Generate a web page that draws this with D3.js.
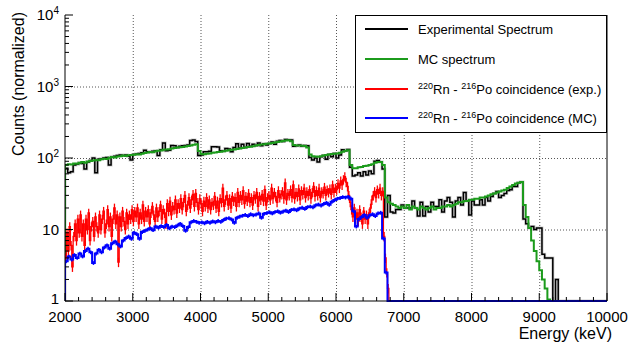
<!DOCTYPE html>
<html>
<head>
<meta charset="utf-8">
<script src="https://cdn.jsdelivr.net/npm/d3@7"></script>
<style>
  body { margin: 0; background: #fff; }
  svg { font-family: "Liberation Sans", Arial, sans-serif; }
</style>
</head>
<body>
<div id="chart"></div>
<script>
// ---------- data ----------
const eMin = 2000, eMax = 10000;
const specBin = 40;   // keV, experimental + MC spectrum
const expBin = 20;    // keV, Rn-Po coincidence (exp.)
const mcBin = 40;     // keV, Rn-Po coincidence (MC)

const expSpectrum = [
  72,62,64,80,82,86,84,70,88,92,
  100,62,96,98,100,102,80,104,106,108,
  110,108,110,106,94,112,114,116,118,128,
  122,120,124,126,108,130,162,126,128,150,
  148,140,146,148,150,152,176,178,170,108,
  110,122,122,124,144,144,142,126,124,136,
  134,122,140,158,138,156,140,160,146,156,
  150,162,148,158,152,160,168,156,172,176,
  170,182,180,178,146,148,152,146,150,148,
  102,94,100,88,104,108,96,112,104,116,
  100,110,130,126,132,74,56,58,62,56,
  64,58,66,60,90,92,88,70,15,30,
  17.5,17,19,19,22,20,20,20,25,20,
  15.5,24,15.5,21,17.5,24,21,21,26,17.5,
  25,28,24,15,25,28,22,33,25,16,
  25,22,22,26,22,28,25,29,32,34,
  28,30,32,35,36,40,40,45,46,14,
  12,10.5,11,10,10.5,10.5,4.5,4,4,4,
  0,2,0,0,0,0,0,0,0,0,
  0,0,0,0,0,0,0,0,0,0
];

const mcSpectrum = [
  80,82,81,84,83,86,88,86,89,91,
  92,94,93,96,98,97,101,103,102,105,
  106,108,107,109,110,111,113,112,115,117,
  119,121,120,124,126,127,130,132,133,136,
  138,140,141,143,145,147,150,153,156,125,
  114,113,115,116,118,119,121,122,124,126,
  128,130,132,134,136,138,140,142,144,146,
  150,152,154,156,158,160,162,165,168,170,
  173,176,177,172,152,150,149,148,147,140,
  112,106,105,104,106,108,110,112,114,115,
  116,118,122,126,128,80,72,72,74,75,
  77,78,80,82,86,88,88,80,28,24,
  23,22,21,20,21,20,22,19,21,20,
  19,21,20,19,20,21,19,20,20,21,
  21,22,21,22,23,24,24,25,25,26,
  26,27,27,28,28,29,30,31,32,33,
  34,35,36,38,40,42,44,45,46,22,
  15,10.5,7,5,3.6,2.7,2.0,1.5,1.05,0,
  0,0,0,0,0,0,0,0,0,0,
  0,0,0,0,0,0,0,0,0,0
];

const rnPoExp = [
  4,9,5,11,6, 3,8,12,7,14, 9,16,8,12,6, 14,10,17,7,11,
  13,8,15,11,9, 16,10,14,18,9, 12,19,11,15,8, 14,20,12,16,3.5,
  15,11,18,13,10, 17,12,16,14,19, 13,18,15,20,12, 17,14,22,13,18,
  15,19,12,17,21, 16,13,20,15,18, 22,14,19,17,12, 23,18,25,16,21,
  19,26,17,23,20, 27,19,24,30,18, 22,28,20,26,31, 21,32,24,19,27,
  23,18,25,21,28, 20,26,19,24,22, 29,20,25,18,27, 24,38,21,26,30,
  22,27,20,29,25, 28,21,33,24,30, 26,35,23,29,25, 32,24,28,22,30,
  27,33,21,29,26, 31,25,36,22,28, 30,26,38,27,33, 29,24,35,28,31,
  34,27,45,26,32, 30,36,28,42,27, 33,29,37,26,35, 31,38,28,34,30,
  36,27,33,40,29, 35,30,38,28,34, 32,39,30,36,33, 37,31,42,33,38,
  36,44,38,48,42, 50,55,46,40,30, 24,19,15,20,14, 17,13,19,15,12,
  18,14,16,12,17, 20,26,30,34,28, 36,32,38,30,34, 8,4,2.5,1.5,0
];

const rnPoMC = [
  3.6,4.2,3.8,4.4,4.0, 4.6,4.2,5.0,5.4,4.8,
  3.4,4.6,5.2,4.8,5.6, 6.0,5.4,6.4,6.8,6.2,
  5.8,7.0,7.6,8.0,7.4, 9.0,8.6,7.4,9.2,9.6,
  10.0,10.4,9.8,11.0,10.6, 11.2,10.8,11.6,10.4,11.0,
  10.8,11.4,12.0,11.2,9.6, 10.8,12.6,13.2,12.8,12.4,
  12.6,12.2,12.8,12.4,13.0, 12.6,13.2,12.8,13.6,14.2,
  14.4,13.8,12.4,14.6,15.2, 15.6,16.0,15.4,16.4,15.8,
  16.2,16.8,14.6,16.6,17.0, 17.4,16.8,17.6,18.0,17.2,
  17.8,18.4,17.6,18.8,19.2, 18.6,19.6,20.2,19.4,20.6,
  21.0,20.4,21.8,22.4,21.6, 22.8,23.6,22.2,24.4,25.8,
  27.0,27.6,28.4,28.0,28.6, 27.0,18.0,11.0,14.0,15.0,
  16.0,14.6,15.8,16.4,15.4, 16.8,17.2,7.5,2.5,0
];

const xTicks = [2000,3000,4000,5000,6000,7000,8000,9000,10000];
const yDecades = [1,10,100,1000,10000];
const legendLabels = [
  ['Experimental Spectrum'],
  ['MC spectrum'],
  ['220','Rn - ','216','Po coincidence (exp.)'],
  ['220','Rn - ','216','Po coincidence (MC)']
];

// ---------- layout ----------
const W = 629, H = 348;
const margin = { left: 65, right: 22, top: 15, bottom: 47 };
const colors = { exp: '#000000', mc: '#1c9b1c', rnExp: '#ff0000', rnMC: '#0000ff' };

const svg = d3.select('#chart').append('svg')
  .attr('width', W).attr('height', H);
svg.append('rect').attr('width', W).attr('height', H).attr('fill', '#fff');

const x = d3.scaleLinear().domain([eMin, eMax]).range([margin.left, W - margin.right]);
const y = d3.scaleLog().domain([1, 10000]).range([H - margin.bottom, margin.top]).clamp(true);
const yv = v => y(Math.max(v, 1));

const x0 = x.range()[0], x1 = x.range()[1];
const yTop = y.range()[1], yBot = y.range()[0];

svg.append('clipPath').attr('id', 'plotClip')
  .append('rect').attr('x', x0).attr('y', yTop - 1).attr('width', x1 - x0 + 1).attr('height', yBot - yTop + 2);

/* ---------- grid ---------- */
const grid = svg.append('g').attr('stroke', '#555').attr('stroke-dasharray', '1,2').attr('stroke-width', 1);
xTicks.slice(1, -1).forEach(t => {
  grid.append('line').attr('x1', x(t) + 0.5).attr('x2', x(t) + 0.5).attr('y1', yTop).attr('y2', yBot);
});
[10, 100, 1000].forEach(t => {
  grid.append('line').attr('x1', x0).attr('x2', x1).attr('y1', y(t) + 0.5).attr('y2', y(t) + 0.5);
});

/* ---------- histograms ---------- */
function stepPath(vals, bw) {
  let p = 'M' + x(eMin) + ',' + yBot;
  vals.forEach((v, i) => {
    const e = eMin + i * bw;
    p += 'L' + x(e) + ',' + yv(v) + 'L' + x(e + bw) + ',' + yv(v);
  });
  const last = eMin + vals.length * bw;
  if (last < eMax) p += 'L' + x(last) + ',' + yBot + 'L' + x(eMax) + ',' + yBot;
  return p;
}

const plot = svg.append('g').attr('clip-path', 'url(#plotClip)').attr('fill', 'none');

plot.append('path').attr('d', stepPath(expSpectrum, specBin))
  .attr('stroke', '#999').attr('stroke-width', 3).attr('stroke-opacity', 0.5);
plot.append('path').attr('d', stepPath(expSpectrum, specBin))
  .attr('stroke', colors.exp).attr('stroke-width', 1.5);

plot.append('path').attr('d', stepPath(mcSpectrum, specBin))
  .attr('stroke', colors.mc).attr('stroke-width', 2);

// red: step line + error bars
const relErrExp = 0.15, relErrMC = 0.06;
plot.append('path').attr('d', stepPath(rnPoExp, expBin))
  .attr('stroke', colors.rnExp).attr('stroke-width', 1.3);
plot.append('g').selectAll('line').data(rnPoExp.filter(v => v > 0)).enter().append('line')
  .attr('x1', (v, i) => x(eMin + (i + 0.5) * expBin))
  .attr('x2', (v, i) => x(eMin + (i + 0.5) * expBin))
  .attr('y1', v => yv(v * (1 + relErrExp)))
  .attr('y2', v => yv(v * (1 - relErrExp)))
  .attr('stroke', colors.rnExp).attr('stroke-width', 1.3);

plot.append('path').attr('d', stepPath(rnPoMC, mcBin))
  .attr('stroke', colors.rnMC).attr('stroke-width', 2);
plot.append('g').selectAll('line').data(rnPoMC.filter(v => v > 0)).enter().append('line')
  .attr('x1', (v, i) => x(eMin + (i + 0.5) * mcBin))
  .attr('x2', (v, i) => x(eMin + (i + 0.5) * mcBin))
  .attr('y1', v => yv(v * (1 + relErrMC)))
  .attr('y2', v => yv(v * (1 - relErrMC)))
  .attr('stroke', colors.rnMC).attr('stroke-width', 1.5);

/* ---------- axes ---------- */
const axes = svg.append('g').attr('stroke', '#000').attr('stroke-width', 1);
axes.append('line').attr('x1', x0).attr('x2', x0).attr('y1', yTop).attr('y2', yBot);
axes.append('line').attr('x1', x0).attr('x2', x1).attr('y1', yBot).attr('y2', yBot);
axes.append('line').attr('x1', x1).attr('x2', x1).attr('y1', yTop).attr('y2', yBot);

// x ticks
d3.range(eMin, eMax + 1, 200).forEach(t => {
  const len = t % 1000 === 0 ? 8 : 4;
  axes.append('line').attr('x1', x(t)).attr('x2', x(t)).attr('y1', yBot).attr('y2', yBot - len);
});
svg.append('g').selectAll('text').data(xTicks).enter().append('text')
  .attr('x', d => x(d)).attr('y', yBot + 21)
  .attr('text-anchor', 'middle').attr('font-size', 15).attr('fill', '#000')
  .text(d => d);

// y ticks
yDecades.slice(0, -1).forEach(d => {
  for (let k = 2; k <= 9; k++) {
    axes.append('line').attr('x1', x0).attr('x2', x0 + 4).attr('y1', y(k * d)).attr('y2', y(k * d));
  }
});
yDecades.forEach(d => {
  axes.append('line').attr('x1', x0).attr('x2', x0 + 8).attr('y1', y(d)).attr('y2', y(d));
});
const ylab = svg.append('g').attr('font-size', 15).attr('fill', '#000').attr('text-anchor', 'end');
yDecades.forEach(d => {
  const t = ylab.append('text').attr('x', x0 - 6).attr('y', y(d) + (d === 1 ? 3 : 5));
  const ex = Math.round(Math.log10(d));
  if (ex <= 1) t.text(d);
  else {
    t.append('tspan').text('10');
    t.append('tspan').attr('font-size', 10).attr('dy', -6).text(ex);
  }
});

// axis titles
svg.append('text').attr('transform', 'translate(' + 24 + ',' + 12 + ') rotate(-90)')
  .attr('text-anchor', 'end').attr('font-size', 16).text('Counts (normalized)');
svg.append('text').attr('x', 612).attr('y', 339)
  .attr('text-anchor', 'end').attr('font-size', 16).text('Energy (keV)');

/* ---------- legend ---------- */
const leg = svg.append('g');
leg.append('rect').attr('x', 355.5).attr('y', 15.5).attr('width', 251).attr('height', 117)
  .attr('fill', '#fff').attr('stroke', '#000').attr('stroke-width', 1);
const legColors = [colors.exp, colors.mc, colors.rnExp, colors.rnMC];
const legY = [29, 59, 89, 118];
legendLabels.forEach((parts, i) => {
  leg.append('line').attr('x1', 365).attr('x2', 408).attr('y1', legY[i]).attr('y2', legY[i])
    .attr('stroke', legColors[i]).attr('stroke-width', 2);
  const t = leg.append('text').attr('x', 418).attr('y', legY[i] + 5).attr('font-size', 13);
  if (parts.length === 1) t.text(parts[0]);
  else {
    t.append('tspan').attr('font-size', 9).attr('dy', -5).text(parts[0]);
    t.append('tspan').attr('dy', 5).text(parts[1]);
    t.append('tspan').attr('font-size', 9).attr('dy', -5).text(parts[2]);
    t.append('tspan').attr('dy', 5).text(parts[3]);
  }
});
</script>
</body>
</html>
